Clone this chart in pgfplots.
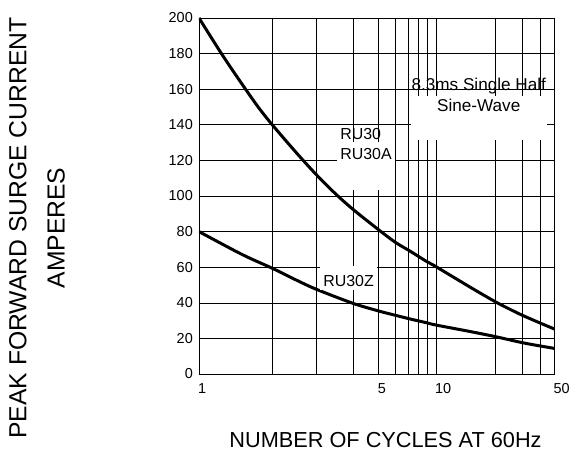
\documentclass[border=0pt]{standalone}
\usepackage{fontspec}
\setmainfont{Liberation Sans}
\usepackage{pgfplots}
\pgfplotsset{compat=1.18}

% the printed cycle scale is not a true log scale: piecewise log mapping
% onto the grid positions of the original sheet (axis width 355.3bp)
\newcommand\cyclepos[1]{%
  \begingroup
  \pgfkeys{/pgf/fpu=true,/pgf/fpu/output format=fixed}%
  \pgfmathsetmacro\cycL{ln(#1)/2.302585}%
  \pgfmathparse{73.3*max(0,min(1,\cycL/0.30103))
    +44.0*max(0,min(1,(\cycL-0.30103)/0.17609))
    +36.7*max(0,min(1,(\cycL-0.47712)/0.12494))
    +25.7*max(0,min(1,(\cycL-0.60206)/0.09691))
    +16.6*max(0,min(1,(\cycL-0.69897)/0.07918))
    +13.4*max(0,min(1,(\cycL-0.77815)/0.06695))
    +10.0*max(0,min(1,(\cycL-0.84510)/0.05799))
    +8.6*max(0,min(1,(\cycL-0.90309)/0.05115))
    +8.7*max(0,min(1,(\cycL-0.95424)/0.04576))
    +59.3*max(0,min(1,(\cycL-1)/0.30103))
    +27.0*max(0,min(1,(\cycL-1.30103)/0.17609))
    +18.4*max(0,min(1,(\cycL-1.47712)/0.12494))
    +13.6*max(0,min(1,(\cycL-1.60206)/0.09691))}%
  \xdef\cycposresult{\pgfmathresult}%
  \endgroup
  \let\pgfmathresult\cycposresult}

\begin{document}
\begin{tikzpicture}
\begin{axis}[
  at={(0,0)}, anchor=south west,
  scale only axis, width=355.3bp, height=356bp,
  xmin=1, xmax=50, ymin=0, ymax=200,
  x coord trafo/.code={\cyclepos{#1}},
  xtick={1,2,3,4,5,6,7,8,9,10,20,30,40,50},
  xticklabels={1,,,,5,,,,,10,,,,50},
  ytick={0,20,40,60,80,100,120,140,160,180,200},
  grid=major,
  grid style={black, line width=0.6bp},
  axis line style={black, line width=0.8bp},
  major tick length=0pt,
  tick style={draw=none},
  /pgf/number format/assume math mode=true,
  ticklabel style={font=\fontsize{14.5}{17}\selectfont},
  xticklabel style={anchor=north west, inner sep=0pt, xshift=-1bp, yshift=-9bp},
  yticklabel style={anchor=east, inner sep=0pt, xshift=-6bp},
  xlabel={NUMBER OF CYCLES AT 60Hz},
  xlabel style={font=\fontsize{21.8}{26}\selectfont, at={(rel axis cs:0.525,0)},
    anchor=base, yshift=-73bp},
  ylabel={PEAK FORWARD SURGE CURRENT\\AMPERES},
  ylabel style={font=\fontsize{24.8}{38.5}\selectfont, align=center,
    at={(rel axis cs:0,0.41)}, anchor=center, yshift=162bp},
]

% RU30 / RU30A
\addplot[black, line width=3bp, smooth, tension=0.5] coordinates {
  (1,200) (1.25,179) (1.5,163) (1.75,150) (2,140) (2.5,124.2) (3,112)
  (3.5,101) (4,92.5) (5,81) (6,74) (7,69.5) (8,66) (9,63)
  (10,60.3) (15,48.6) (20,40.6) (25,36.3) (30,33) (40,28.5) (50,25.3)
};
% RU30Z
\addplot[black, line width=3bp, smooth, tension=0.5] coordinates {
  (1,80) (1.5,67.2) (2,59.4) (2.5,52.7) (3,47.6) (4,39.7) (5,35.4) (6,33)
  (7,31.1) (8,29.8) (9,28.7) (10,27.5) (15,23.8) (20,21) (30,17.6) (40,15.7)
  (50,14.4)
};

\node[fill=white, align=left, inner xsep=3bp, inner ysep=1bp,
  text height=17bp, text depth=29bp, font=\fontsize{16}{20.5}\selectfont]
  at (rel axis cs:0.470,0.5843) {RU30\\RU30A};
\node[fill=white, inner xsep=3bp, inner ysep=1bp,
  text height=20bp, text depth=2bp, font=\fontsize{16}{20}\selectfont]
  at (rel axis cs:0.4208,0.2697) {RU30Z};
\node[fill=white, align=center, inner xsep=1bp, inner ysep=1bp,
  text height=14.5bp, text depth=27.5bp, font=\fontsize{17.2}{21}\selectfont]
  at (rel axis cs:0.7874,0.7191) {8.3ms Single Half\\Sine-Wave};
\end{axis}
\pgfresetboundingbox
\path[use as bounding box] (-199bp,-76bp) rectangle (375bp,374bp);
\end{tikzpicture}
\end{document}
